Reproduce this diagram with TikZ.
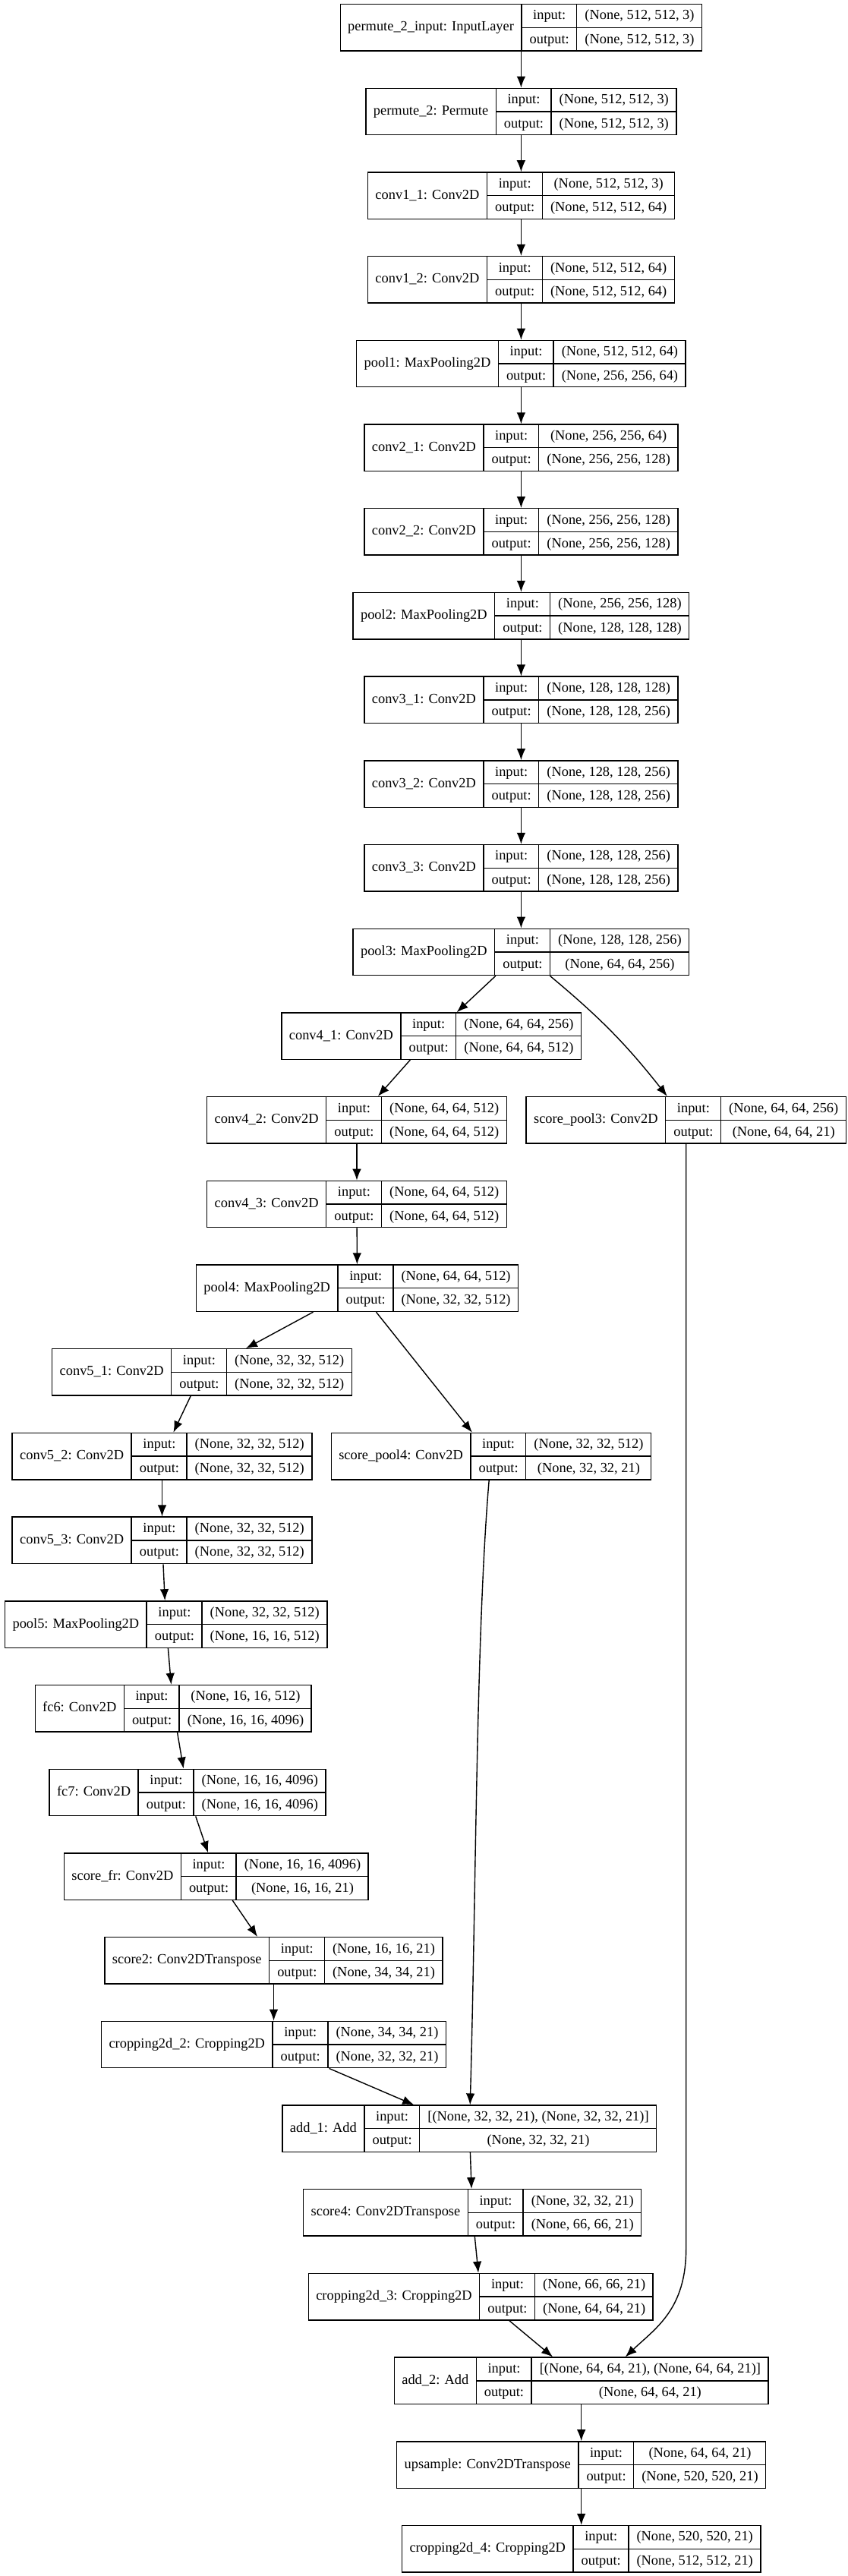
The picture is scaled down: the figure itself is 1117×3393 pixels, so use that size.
\documentclass[tikz,border=0pt]{standalone}
\usepackage{fontspec}
\setmainfont{Liberation Serif}
\usetikzlibrary{arrows.meta,calc}

\setlength\tabcolsep{5pt}
\setlength\arrayrulewidth{0.7pt}
\newcommand\rowstrut{\rule[-4.8pt]{0pt}{15pt}}
\newcommand\layerrec[3]{%
  \begin{tabular}{c|@{}c@{}|@{}c@{}}
    #1 &
    \begin{tabular}{c}\rowstrut input:\\\hline\rowstrut output:\end{tabular} &
    \begin{tabular}{c}\rowstrut #2\\\hline\rowstrut #3\end{tabular}
  \end{tabular}}

\begin{document}
\begin{tikzpicture}[x=0.5pt,y=-0.5pt]
    \tikzset{layer/.style={draw,line width=0.7pt,inner sep=0pt,font=\fontsize{9.2}{11}\selectfont}}
    \tikzset{vec/.style={draw,line width=0.7pt,-{Latex[length=7.5pt,width=5.8pt]}}}
    \useasboundingbox (0,0) rectangle (1117,3393);

    % VGG part
    \node[layer] (in) at (686.4,36.25) {\layerrec{permute\_2\_input: InputLayer}{(None, 512, 512, 3)}{(None, 512, 512, 3)}};
    \node[layer] (perm) at (686.4,146.95) {\layerrec{permute\_2: Permute}{(None, 512, 512, 3)}{(None, 512, 512, 3)}};
    \node[layer] (c11) at (686.4,257.65) {\layerrec{conv1\_1: Conv2D}{(None, 512, 512, 3)}{(None, 512, 512, 64)}};
    \node[layer] (c12) at (686.4,368.35) {\layerrec{conv1\_2: Conv2D}{(None, 512, 512, 64)}{(None, 512, 512, 64)}};
    \node[layer] (pool1) at (686.4,479.05) {\layerrec{pool1: MaxPooling2D}{(None, 512, 512, 64)}{(None, 256, 256, 64)}};
    \node[layer] (c21) at (686.4,589.75) {\layerrec{conv2\_1: Conv2D}{(None, 256, 256, 64)}{(None, 256, 256, 128)}};
    \node[layer] (c22) at (686.4,700.45) {\layerrec{conv2\_2: Conv2D}{(None, 256, 256, 128)}{(None, 256, 256, 128)}};
    \node[layer] (pool2) at (686.4,811.15) {\layerrec{pool2: MaxPooling2D}{(None, 256, 256, 128)}{(None, 128, 128, 128)}};
    \node[layer] (c31) at (686.4,921.85) {\layerrec{conv3\_1: Conv2D}{(None, 128, 128, 128)}{(None, 128, 128, 256)}};
    \node[layer] (c32) at (686.4,1032.55) {\layerrec{conv3\_2: Conv2D}{(None, 128, 128, 256)}{(None, 128, 128, 256)}};
    \node[layer] (c33) at (686.4,1143.25) {\layerrec{conv3\_3: Conv2D}{(None, 128, 128, 256)}{(None, 128, 128, 256)}};
    \node[layer] (pool3) at (686.4,1253.95) {\layerrec{pool3: MaxPooling2D}{(None, 128, 128, 256)}{(None, 64, 64, 256)}};
    \node[layer] (c41) at (568.2,1364.65) {\layerrec{conv4\_1: Conv2D}{(None, 64, 64, 256)}{(None, 64, 64, 512)}};
    \node[layer] (c42) at (470,1475.35) {\layerrec{conv4\_2: Conv2D}{(None, 64, 64, 512)}{(None, 64, 64, 512)}};
    \node[layer] (sp3) at (903.7,1475.35) {\layerrec{score\_pool3: Conv2D}{(None, 64, 64, 256)}{(None, 64, 64, 21)}};
    \node[layer] (c43) at (470,1586.05) {\layerrec{conv4\_3: Conv2D}{(None, 64, 64, 512)}{(None, 64, 64, 512)}};
    \node[layer] (pool4) at (470.5,1696.75) {\layerrec{pool4: MaxPooling2D}{(None, 64, 64, 512)}{(None, 32, 32, 512)}};
    \node[layer] (c51) at (266,1807.45) {\layerrec{conv5\_1: Conv2D}{(None, 32, 32, 512)}{(None, 32, 32, 512)}};
    \node[layer] (c52) at (213.5,1918.15) {\layerrec{conv5\_2: Conv2D}{(None, 32, 32, 512)}{(None, 32, 32, 512)}};
    \node[layer] (sp4) at (646.9,1918.15) {\layerrec{score\_pool4: Conv2D}{(None, 32, 32, 512)}{(None, 32, 32, 21)}};
    \node[layer] (c53) at (213.5,2028.85) {\layerrec{conv5\_3: Conv2D}{(None, 32, 32, 512)}{(None, 32, 32, 512)}};
    \node[layer] (pool5) at (218.7,2139.55) {\layerrec{pool5: MaxPooling2D}{(None, 32, 32, 512)}{(None, 16, 16, 512)}};
    \node[layer] (fc6) at (228.2,2250.25) {\layerrec{fc6: Conv2D}{(None, 16, 16, 512)}{(None, 16, 16, 4096)}};
    \node[layer] (fc7) at (247,2360.95) {\layerrec{fc7: Conv2D}{(None, 16, 16, 4096)}{(None, 16, 16, 4096)}};

    % FCN head
    \node[layer] (fr) at (284.8,2471.65) {\layerrec{score\_fr: Conv2D}{(None, 16, 16, 4096)}{(None, 16, 16, 21)}};
    \node[layer] (s2) at (360.5,2582.35) {\layerrec{score2: Conv2DTranspose}{(None, 16, 16, 21)}{(None, 34, 34, 21)}};
    \node[layer] (crop2) at (360.5,2693.05) {\layerrec{cropping2d\_2: Cropping2D}{(None, 34, 34, 21)}{(None, 32, 32, 21)}};
    \node[layer] (add1) at (618.3,2803.75) {\layerrec{add\_1: Add}{[(None, 32, 32, 21), (None, 32, 32, 21)]}{(None, 32, 32, 21)}};
    \node[layer] (s4) at (622.2,2914.45) {\layerrec{score4: Conv2DTranspose}{(None, 32, 32, 21)}{(None, 66, 66, 21)}};
    \node[layer] (crop3) at (633.2,3025.15) {\layerrec{cropping2d\_3: Cropping2D}{(None, 66, 66, 21)}{(None, 64, 64, 21)}};
    \node[layer] (add2) at (765.7,3135.85) {\layerrec{add\_2: Add}{[(None, 64, 64, 21), (None, 64, 64, 21)]}{(None, 64, 64, 21)}};
    \node[layer] (up) at (765.7,3246.55) {\layerrec{upsample: Conv2DTranspose}{(None, 64, 64, 21)}{(None, 520, 520, 21)}};
    \node[layer] (crop4) at (765.7,3357.25) {\layerrec{cropping2d\_4: Cropping2D}{(None, 520, 520, 21)}{(None, 512, 512, 21)}};

    \foreach \a/\b in {in/perm,perm/c11,c11/c12,c12/pool1,pool1/c21,c21/c22,c22/pool2,
        pool2/c31,c31/c32,c32/c33,c33/pool3,pool3/c41,c41/c42,c42/c43,c43/pool4,
        pool4/c51,pool4/sp4,c51/c52,c52/c53,c53/pool5,pool5/fc6,fc6/fc7,fc7/fr,
        fr/s2,s2/crop2,crop2/add1,add1/s4,s4/crop3,crop3/add2,add2/up,up/crop4} {
        \draw[vec] (\a) -- (\b);
    }

    % skip connections
    \draw[vec] (pool3) to[bend left=6] (sp3);
    \draw[vec] (sp4) .. controls (627,2150) and (627,2500) .. (add1);
    \draw[vec] (sp3.south) -- ++(0,1455) .. controls ++(0,80) and ($(add2.north)+(98,-38)$) .. ($(add2.north)+(58,0)$);
\end{tikzpicture}
\end{document}
